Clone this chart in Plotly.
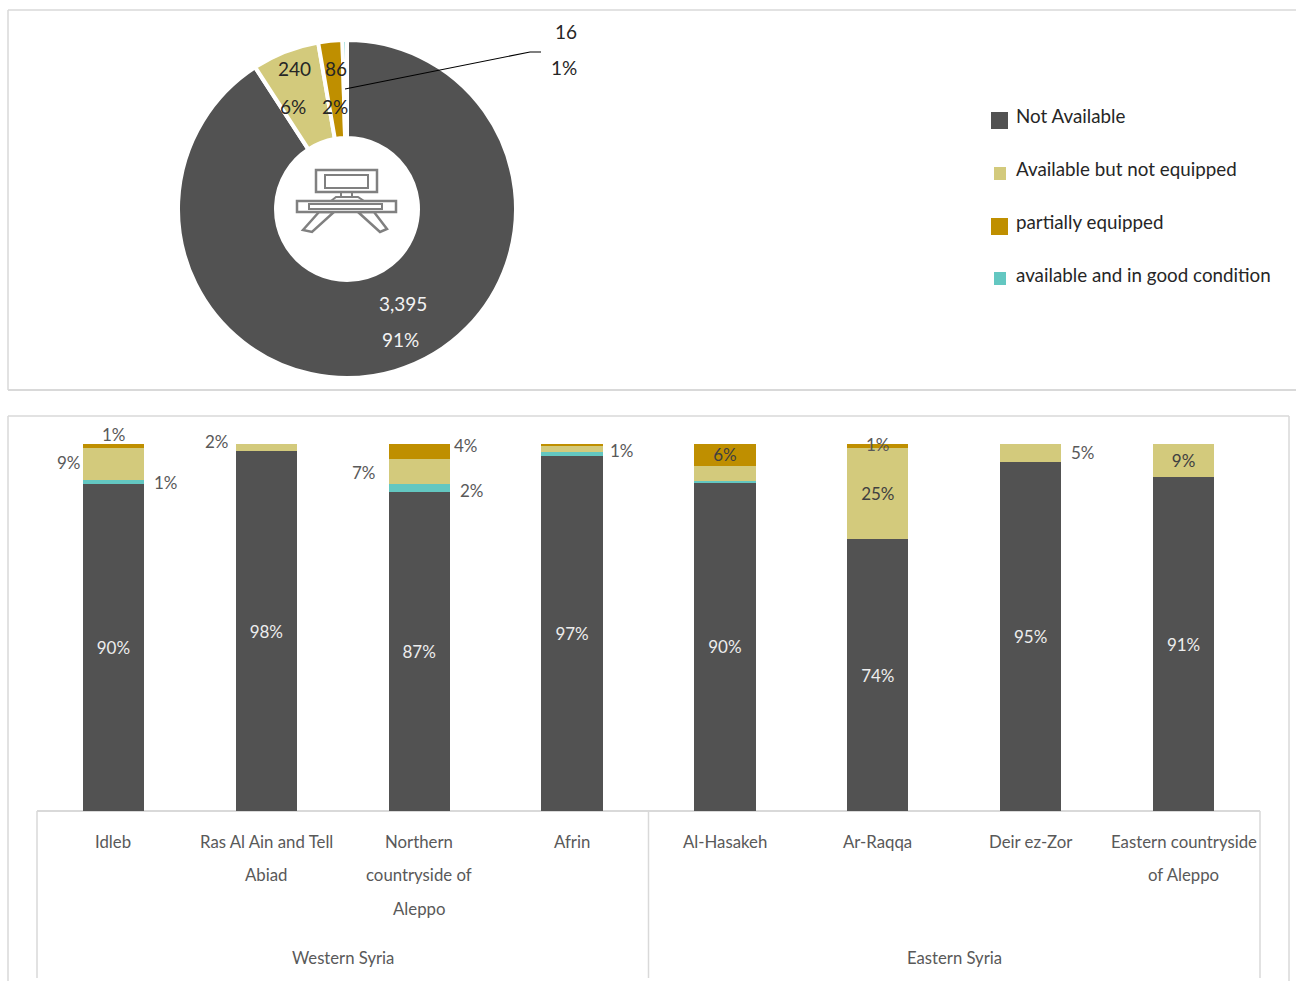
import plotly.graph_objects as go

# Overall availability of equipment
status_names = ["Not Available", "Available but not equipped", "partially equipped",
                "available and in good condition"]
status_colors = ["#525252", "#D3CA7C", "#BF8F00", "#63C7C1"]
facility_counts = [3395, 240, 86, 16]
facility_shares = [91, 6, 2, 1]

# Share of each status by area, in percent
areas = ["Idleb", "Ras Al Ain and Tell Abiad", "Northern countryside of Aleppo", "Afrin",
         "Al-Hasakeh", "Ar-Raqqa", "Deir ez-Zor", "Eastern countryside of Aleppo"]
not_available = [90, 98, 87, 97, 90, 74, 95, 91]
good_condition = [1, 0, 2, 1, 0.4, 0, 0, 0]
not_equipped = [9, 2, 7, 2, 4, 25, 5, 9]
partially = [1, 0, 4, 0.3, 6, 1, 0, 0]

area_lines = [["Idleb"], ["Ras Al Ain and Tell", "Abiad"],
              ["Northern", "countryside of", "Aleppo"], ["Afrin"], ["Al-Hasakeh"], ["Ar-Raqqa"],
              ["Deir ez-Zor"], ["Eastern countryside", "of Aleppo"]]
regions = ["Western Syria", "Eastern Syria"]

W, H = 1296, 981
FONT = "Lato"
GREY = "#D9D9D9"
LABEL = "#595959"
ICON = "#808080"


def px(x):
    return x / W


def py(y):
    return 1 - y / H


fig = go.Figure()

# Donut: centre (347, 209), outer radius 168
fig.add_trace(go.Pie(
    values=facility_counts, labels=status_names, sort=False, direction="clockwise", rotation=0,
    hole=0.42, textinfo="none", hoverinfo="label+value", showlegend=False,
    marker=dict(colors=[status_colors[0], status_colors[1], status_colors[2], status_colors[3]],
                line=dict(color="white", width=4)),
    domain=dict(x=[px(347 - 169), px(347 + 169)], y=[py(209 + 169), py(209 - 169)]),
))

# Stacked columns, bottom to top
stack = [
    (status_names[0], not_available, status_colors[0]),
    (status_names[3], good_condition, status_colors[3]),
    (status_names[1], not_equipped, status_colors[1]),
    (status_names[2], partially, status_colors[2]),
]
inside_labels = {
    status_names[0]: set(range(8)),
    status_names[1]: {5, 7},
    status_names[2]: {4},
    status_names[3]: set(),
}
for name, vals, color in stack:
    shown = inside_labels[name]
    fig.add_trace(go.Bar(
        x=list(range(8)), y=vals, name=name, showlegend=False, width=0.4,
        marker=dict(color=color, line=dict(width=0)),
        text=[f"{round(v)}%" if i in shown else "" for i, v in enumerate(vals)],
        textposition="inside", insidetextanchor="middle", textangle=0, constraintext="none",
        insidetextfont=dict(family=FONT, size=17,
                            color="#EDEDED" if color == status_colors[0] else "#404040"),
        hoverinfo="name+text",
    ))


def band_mid(series_index, area_index):
    """Midpoint of a stack segment on the normalised 0-100 scale."""
    total = sum(s[1][area_index] for s in stack)
    below = sum(s[1][area_index] for s in stack[:series_index])
    return 100 * (below + stack[series_index][1][area_index] / 2) / total


# Labels set beside their segments: series, area, pixel offsets
side_labels = [
    (3, 0, 1, 11), (2, 0, -44, 1), (1, 0, 53, 0),
    (2, 1, -49, 6),
    (3, 2, 47, 6), (2, 2, -55, -1), (1, 2, 53, -2),
    (1, 3, 50, 4),
    (3, 5, 0, 1),
    (2, 6, 52, 1),
]
annotations = []
for si, ai, dx, dy in side_labels:
    annotations.append(dict(
        x=ai, y=band_mid(si, ai), xref="x", yref="y", xshift=dx, yshift=dy, showarrow=False,
        text=f"{round(stack[si][1][ai])}%", font=dict(family=FONT, size=17, color=LABEL),
    ))


def note(x, y, text, size=17, color=LABEL, anchor="center"):
    annotations.append(dict(x=px(x), y=py(y), xref="paper", yref="paper", text=text,
                            showarrow=False, xanchor=anchor, yanchor="middle",
                            font=dict(family=FONT, size=size, color=color)))


# Donut labels
note(403, 303, f"{facility_counts[0]:,}", 19, "#F2F2F2")
note(400.5, 339.5, f"{facility_shares[0]}%", 19, "#F2F2F2")
note(294.5, 68.5, f"{facility_counts[1]:,}", 19, "#262626")
note(293, 106.5, f"{facility_shares[1]}%", 19, "#262626")
note(336, 68.5, f"{facility_counts[2]:,}", 19, "#262626")
note(335, 106.5, f"{facility_shares[2]}%", 19, "#262626")
note(565.5, 31, f"{facility_counts[3]:,}", 19, "#262626")
note(563.5, 67.5, f"{facility_shares[3]}%", 19, "#262626")

# Category axis text, one annotation per line for the wide leading
for i, lines in enumerate(area_lines):
    for j, line_text in enumerate(lines):
        annotations.append(dict(x=i, y=py(841 + j * 33.5), xref="x", yref="paper", text=line_text,
                                showarrow=False, yanchor="middle",
                                font=dict(family=FONT, size=16.8, color=LABEL)))
for k, region in enumerate(regions):
    annotations.append(dict(x=1.5 + 4 * k, y=py(958), xref="x", yref="paper", text=region,
                            showarrow=False, yanchor="middle",
                            font=dict(family=FONT, size=16.7, color=LABEL)))


def line(x0, y0, x1, y1, color=GREY, width=1.5):
    return dict(type="line", xref="paper", yref="paper", x0=px(x0), y0=py(y0), x1=px(x1),
                y1=py(y1), line=dict(color=color, width=width), layer="below")


def box(x0, y0, x1, y1, fill="rgba(0,0,0,0)", edge=None, width=2):
    return dict(type="rect", xref="paper", yref="paper", x0=px(x0), y0=py(y0), x1=px(x1),
                y1=py(y1), fillcolor=fill, line=dict(color=edge or fill, width=width if edge else 0),
                layer="above")


def poly(points, edge=ICON, width=2):
    path = "M " + " L ".join(f"{px(a):.5f},{py(b):.5f}" for a, b in points) + " Z"
    return dict(type="path", xref="paper", yref="paper", path=path,
                line=dict(color=edge, width=width), fillcolor="white", layer="above")


shapes = [
    # Panel frames
    line(8, 10, 1296, 10), line(8, 10, 8, 390), line(8, 390, 1296, 390, width=2),
    line(8, 416, 1289, 416), line(8, 416, 8, 981), line(1289, 416, 1289, 981),
    # Axis baseline and group separators
    line(37, 811, 1260, 811, width=2), line(37, 811, 37, 978), line(648.5, 811, 648.5, 978),
    line(1260, 811, 1260, 978),
    # Computer desk pictogram
    box(316, 170, 377, 192, edge=ICON, width=2.5), box(325, 175, 368, 188, edge=ICON, width=2),
    box(341, 192, 352, 197, edge=ICON, width=2),
    poly([(331, 201), (336, 197), (358, 197), (364, 201)]),
    poly([(319, 212), (303, 230), (312, 232), (334, 212)], width=2.5),
    poly([(358, 212), (380, 232), (387, 229), (374, 212)], width=2.5),
    box(297, 201, 396, 212, fill="white", edge=ICON, width=2.5),
    box(309, 204, 382, 209, edge=ICON, width=2),
    # Leader for the smallest slice
    dict(type="path", xref="paper", yref="paper",
         path=f"M {px(345)},{py(89)} L {px(530)},{py(52)} L {px(541)},{py(52)}",
         line=dict(color="black", width=1.2), layer="above"),
    # Legend keys
    box(991, 112, 1008, 129, fill=status_colors[0]),
    box(994, 167, 1006, 180, fill=status_colors[1]),
    box(991, 218, 1008, 235, fill=status_colors[2]),
    box(994, 272, 1006, 285, fill=status_colors[3]),
]

# Legend text
for y, name in zip([115.5, 168.5, 221.5, 274.5], status_names):
    note(1014, y, name, 18.8, "#262626", "left")

fig.update_layout(
    width=W, height=H, margin=dict(l=0, r=0, t=0, b=0), paper_bgcolor="white",
    plot_bgcolor="white", barmode="stack", barnorm="percent", showlegend=False,
    font=dict(family=FONT), annotations=annotations, shapes=shapes,
    xaxis=dict(domain=[px(37), px(1260)], range=[-0.5, 7.5], showticklabels=False,
               showgrid=False, zeroline=False, ticks=""),
    yaxis=dict(domain=[py(811), py(444)], range=[0, 100], showticklabels=False,
               showgrid=False, zeroline=False, ticks=""),
)

fig.write_html("out.html")
